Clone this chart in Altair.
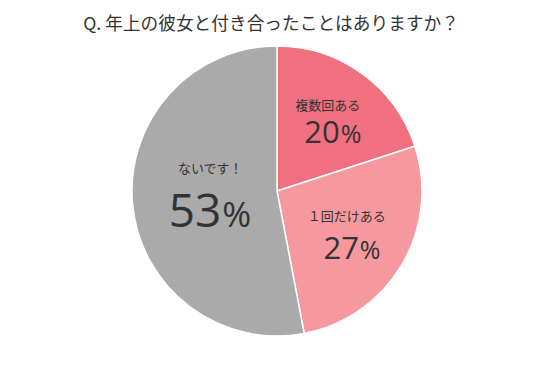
import altair as alt
import pandas as pd

labels = ["複数回ある", "１回だけある", "ないです！"]
values = [20, 27, 53]
colors = ["#F07080", "#F5999E", "#AAAAAA"]
title_text = "Q. 年上の彼女と付き合ったことはありますか？"

df = pd.DataFrame({
    "label": labels,
    "value": values,
    "order": list(range(len(labels))),
})
df["num"] = df["value"].astype(str)

JP = "Noto Sans CJK JP"
NUM = "Open Sans"
TXT = "#333333"

base = alt.Chart(df).encode(
    theta=alt.Theta("value:Q", stack=True),
    order=alt.Order("order:Q"),
)

arc = base.mark_arc(outerRadius=145, stroke="white", strokeWidth=1.5).encode(
    color=alt.Color("label:N", scale=alt.Scale(domain=labels, range=colors), legend=None)
)

# per-slice label styling: radius of anchor, offsets, font sizes
styles = {
    labels[0]: dict(r=100, ldx=-8, ldy=-4, ndx=4, ndy=33, nsize=31, psize=25),
    labels[1]: dict(r=80, ldx=1, ldy=-15, ndx=13, ndy=27, nsize=31, psize=25),
    labels[2]: dict(r=70, ldx=3, ldy=-29, ndx=14, ndy=29, nsize=46, psize=35),
}

layers = [arc]
for lab, s in styles.items():
    pred = alt.datum.label == lab
    layers.append(
        base.mark_text(radius=s["r"], dx=s["ldx"], dy=s["ldy"], font=JP, fontSize=13,
                       color=TXT, align="center", baseline="middle").encode(
            text=alt.condition(pred, alt.Text("label:N"), alt.value(""))
        )
    )
    layers.append(
        base.mark_text(radius=s["r"], dx=s["ndx"], dy=s["ndy"], font=NUM, fontSize=s["nsize"],
                       color=TXT, align="right", baseline="alphabetic").encode(
            text=alt.condition(pred, alt.Text("num:N"), alt.value(""))
        )
    )
    layers.append(
        base.mark_text(radius=s["r"], dx=s["ndx"] + 1, dy=s["ndy"], font=NUM, fontSize=s["psize"],
                       color=TXT, align="left", baseline="alphabetic").encode(
            text=alt.condition(pred, alt.value("%"), alt.value(""))
        )
    )

chart = alt.layer(*layers).properties(
    width=554,
    height=290,
    autosize=alt.AutoSizeParams(type="none"),
    padding={"left": 0, "right": 0, "top": 46, "bottom": 46},
    background="white",
    title=alt.TitleParams(title_text, font=JP, fontSize=17.7, fontWeight="normal",
                          color=TXT, dx=-6, offset=9, anchor="middle"),
).configure_view(stroke=None)

chart.save("out.html", embed_options={"renderer": "svg", "actions": False})
